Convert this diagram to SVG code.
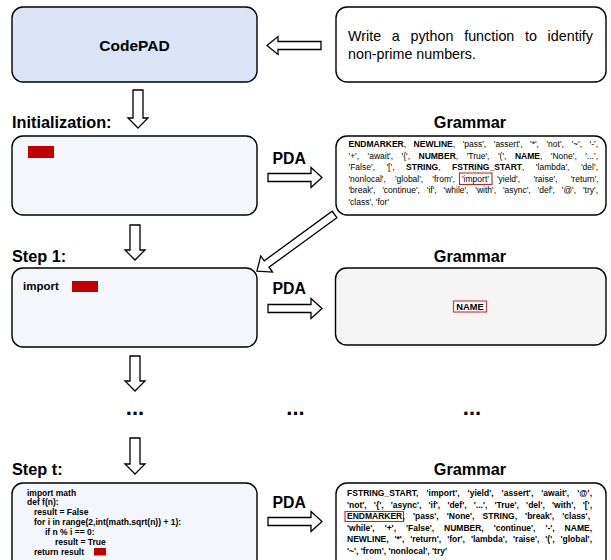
<svg xmlns="http://www.w3.org/2000/svg" width="611" height="560" viewBox="0 0 611 560">
<style>
text{font-family:"Liberation Sans",Arial,Helvetica,sans-serif;fill:#000}
.box{stroke:#000;stroke-width:1.4}
.blue{fill:#dbe4f4}
.pale{fill:#f3f6fb}
.white{fill:#fff}
.grey{fill:#f5f5f5}
.arr{fill:#fff;stroke:#000;stroke-width:1.3;stroke-linejoin:miter}
.lbl{font-size:16.3px;font-weight:bold}
.pda{font-size:15.8px;font-weight:bold}
.g1{font-size:8.5px}
.gt{font-size:8.5px;font-weight:bold}
.b{font-weight:bold}
.code{font-size:8.5px;font-weight:bold}
.cur{fill:#c00000}
.hl{fill:none;stroke:#d42020;stroke-width:1.1}
.dots{font-size:22px;font-weight:bold;text-anchor:middle}
</style>

<g id="connectors">
  <polygon class="arr" points="321,41.5 278,41.5 278,36.5 267,45.5 278,54.5 278,49.5 321,49.5"/>
  <polygon class="arr" points="133,90 143,90 143,118 148,118 138,128 128,118 133,118"/>
  <polygon class="arr" points="130,225 140,225 140,250 145,250 135,260 125,250 130,250"/>
  <polygon class="arr" points="130,356 140,356 140,381 145,381 135,391 125,381 130,381"/>
  <polygon class="arr" points="130,438 140,438 140,464 145,464 135,474 125,464 130,464"/>
  <polygon class="arr" points="268,173.5 311,173.5 311,167.5 322,177.5 311,187.5 311,181.5 268,181.5"/>
  <polygon class="arr" points="268,304.5 311,304.5 311,298.5 322,308.5 311,318.5 311,312.5 268,312.5"/>
  <polygon class="arr" points="268,517.5 311,517.5 311,511.5 322,521.5 311,531.5 311,525.5 268,525.5"/>
  <polygon class="arr" transform="translate(334.5,214.5) rotate(143.9)" points="0,-4 84,-4 84,-10 96,0 84,10 84,4 0,4"/>
</g>

<g id="codepad">
  <rect class="box blue" x="12" y="7" width="245" height="75" rx="11"/>
  <text class="lbl" x="134.5" y="51" text-anchor="middle" style="font-size:15.5px">CodePAD</text>
</g>

<g id="prompt">
  <rect class="box white" x="336" y="7" width="270" height="75" rx="11"/>
  <text x="348" y="40.5" style="font-size:14.3px;word-spacing:6.7px" textLength="245" lengthAdjust="spacing">Write a python function to identify</text>
  <text x="348" y="58.5" style="font-size:14.3px">non-prime numbers.</text>
</g>

<g id="init-label"><text class="lbl" x="12" y="128">Initialization:</text></g>

<g id="init">
  <rect class="box pale" x="12" y="136" width="245" height="79" rx="11"/>
  <rect class="cur" x="28" y="146" width="26" height="12"/>
</g>

<g id="pda-init"><text class="pda" x="272.5" y="163.5">PDA</text></g>

<g id="grammar1-label"><text class="lbl" x="470" y="128" text-anchor="middle">Grammar</text></g>

<g id="grammar1">
  <rect class="box white" x="336" y="136" width="270" height="79" rx="11"/>
  <text class="g1" x="348.5" y="147" style="word-spacing:5.2px" textLength="249.5" lengthAdjust="spacing"><tspan class="b">ENDMARKER</tspan>, <tspan class="b">NEWLINE</tspan>, 'pass', 'assert', '*', 'not', '~', '-',</text>
  <text class="g1" x="348.5" y="158.5" style="word-spacing:6.1px" textLength="249.5" lengthAdjust="spacing">'+', 'await', '{', <tspan class="b">NUMBER</tspan>, 'True', '(', <tspan class="b">NAME</tspan>, 'None', '...',</text>
  <text class="g1" x="348.5" y="170" style="word-spacing:9.1px" textLength="249.5" lengthAdjust="spacing">'False', '[', <tspan class="b">STRING</tspan>, <tspan class="b">FSTRING_START</tspan>, 'lambda', 'del',</text>
  <text class="g1" x="348.5" y="181.5" style="word-spacing:6.8px" textLength="106.5" lengthAdjust="spacing">'nonlocal', 'global', 'from',</text>
  <text class="g1" x="462" y="181.5">'import'</text>
  <rect class="hl" x="459.5" y="173" width="32.5" height="11.5"/>
  <text class="g1" x="497" y="181.5" style="word-spacing:11px" textLength="101.5" lengthAdjust="spacing">'yield', 'raise', 'return',</text>
  <text class="g1" x="348.5" y="193" style="word-spacing:4.5px" textLength="249.5" lengthAdjust="spacing">'break', 'continue', 'if', 'while', 'with', 'async', 'def', '@', 'try',</text>
  <text class="g1" x="348.5" y="204.5">'class', 'for'</text>
</g>

<g id="step1-label"><text class="lbl" x="12" y="262">Step 1:</text></g>

<g id="step1">
  <rect class="box pale" x="12" y="268" width="245" height="79" rx="11"/>
  <text x="23" y="290" style="font-size:11.5px;font-weight:bold">import</text>
  <rect class="cur" x="72" y="281" width="26" height="11"/>
</g>

<g id="pda-step1"><text class="pda" x="272.5" y="294">PDA</text></g>

<g id="grammar2-label"><text class="lbl" x="470" y="262" text-anchor="middle">Grammar</text></g>

<g id="grammar2">
  <rect class="box grey" x="335.5" y="268" width="270.5" height="77" rx="11"/>
  <rect x="453.5" y="301" width="33" height="11" fill="#fff" stroke="#d04040" stroke-width="1.2"/>
  <text x="470" y="310" text-anchor="middle" style="font-size:9.3px;font-weight:bold">NAME</text>
</g>

<g id="ellipses">
  <text class="dots" x="135" y="415">...</text>
  <text class="dots" x="295.5" y="415">...</text>
  <text class="dots" x="472" y="415">...</text>
</g>

<g id="stept-label"><text class="lbl" x="12" y="475">Step t:</text></g>

<g id="stept">
  <rect class="box pale" x="12" y="483" width="245" height="100" rx="11"/>
  <text class="code" x="27" y="495.5">import math</text>
  <text class="code" x="27" y="505.4">def f(n):</text>
  <text class="code" x="34" y="515.3">result = False</text>
  <text class="code" x="34" y="525.2">for i in range(2,int(math.sqrt(n)) + 1):</text>
  <text class="code" x="45" y="535.1">if n % i == 0:</text>
  <text class="code" x="55" y="545">result = True</text>
  <text class="code" x="34" y="554.9">return result</text>
  <rect class="cur" x="94" y="548" width="12" height="7.5"/>
</g>

<g id="pda-stept"><text class="pda" x="272.5" y="507.5">PDA</text></g>

<g id="grammart-label"><text class="lbl" x="470" y="475" text-anchor="middle">Grammar</text></g>

<g id="grammart">
  <rect class="box white" x="336" y="483" width="270" height="100" rx="11"/>
  <text class="gt" x="347" y="496" style="word-spacing:5.6px" textLength="245" lengthAdjust="spacing">FSTRING_START, 'import', 'yield', 'assert', 'await', '@',</text>
  <text class="gt" x="347" y="507.5" style="word-spacing:4.8px" textLength="245" lengthAdjust="spacing">'not', '{', 'async', 'if', 'def', '...', 'True', 'del', 'with', '[',</text>
  <text class="gt" x="347" y="519">ENDMARKER</text>
  <rect class="hl" x="345" y="511.5" width="58.5" height="10"/>
  <text class="gt" x="402.5" y="519" style="word-spacing:5.7px" textLength="187.5" lengthAdjust="spacing">, 'pass', 'None', STRING, 'break', 'class',</text>
  <text class="gt" x="347" y="530.5" style="word-spacing:7.6px" textLength="245" lengthAdjust="spacing">'while', '+', 'False', NUMBER, 'continue', '-', NAME,</text>
  <text class="gt" x="347" y="542" style="word-spacing:3.6px" textLength="245" lengthAdjust="spacing">NEWLINE, '*', 'return', 'for', 'lambda', 'raise', '(', 'global',</text>
  <text class="gt" x="347" y="553.5">'~', 'from', 'nonlocal', 'try'</text>
</g>
</svg>
